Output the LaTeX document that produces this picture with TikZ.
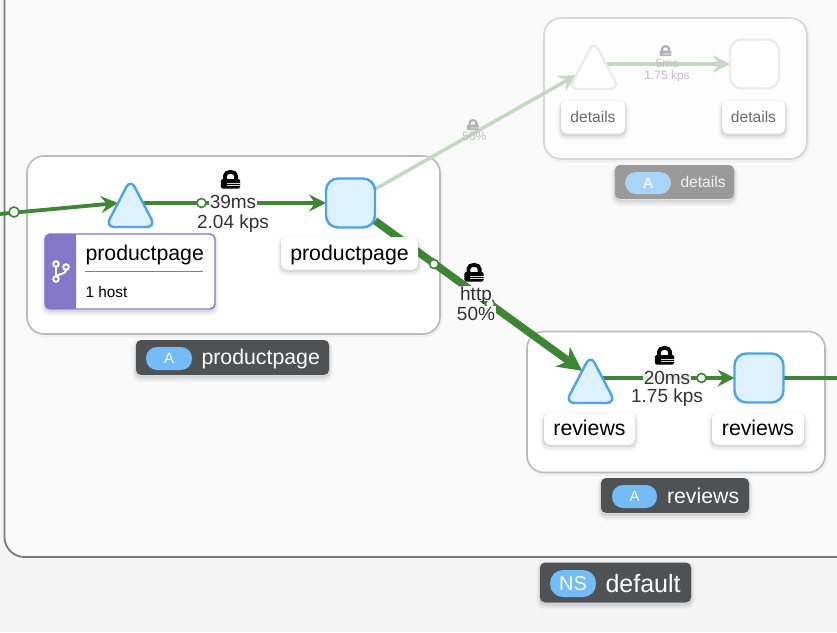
\documentclass[tikz,border=0pt]{standalone}
\usepackage{fontspec}
\setmainfont{Liberation Sans}
\usetikzlibrary{shapes.geometric,arrows.meta,calc}
\definecolor{pagebg}{HTML}{F5F5F5}
\definecolor{nsbg}{HTML}{FAFAFA}
\definecolor{nsline}{HTML}{787878}
\definecolor{grpline}{HTML}{B8BBBE}
\definecolor{grpfade}{HTML}{D6D6D6}
\definecolor{okgreen}{HTML}{3E8635}
\definecolor{fadegreen}{HTML}{C5D9C2}
\definecolor{nodefill}{HTML}{DEF1FE}
\definecolor{nodeline}{HTML}{4BA3E8}
\definecolor{fadeline}{HTML}{EBEBEB}
\definecolor{badgebg}{HTML}{4F5255}
\definecolor{badgefade}{HTML}{999999}
\definecolor{pillblue}{HTML}{73BCF7}
\definecolor{pillfade}{HTML}{A9D5F8}
\definecolor{cardpurple}{HTML}{8476C9}
\definecolor{labeltxt}{HTML}{333333}
\definecolor{fadetxt}{HTML}{BDBDBD}
\definecolor{fadelock}{HTML}{B3B3B3}
\pgfdeclarelayer{groups}
\pgfdeclarelayer{edges}
\pgfsetlayers{groups,edges,main}
\newcommand{\fs}[1]{\fontsize{#1}{#1}\selectfont}
\newcommand{\triface}[2]{\draw[#2,rounded corners=9pt,line join=round] (#1.apex) -- (#1.right corner) -- (#1.left corner) -- cycle;}
\tikzset{
  x=1pt,y=-1pt,
  softshadow/.style={
    preaction={draw=black,fill=none,line width=9pt,draw opacity=.025,transform canvas={yshift=-3pt}},
    preaction={draw=black,fill=none,line width=5pt,draw opacity=.05,transform canvas={yshift=-3pt}},
    preaction={draw=black,fill=none,line width=2pt,draw opacity=.08,transform canvas={yshift=-2pt}}},
  faintshadow/.style={
    preaction={draw=black,fill=none,line width=3.5pt,draw opacity=.04,transform canvas={xshift=1pt,yshift=-1.5pt}}},
  box/.style={rectangle,inner sep=0pt,outer sep=0pt},
  grp/.style={box,draw=grpline,line width=1.6pt,fill=white,rounded corners=17pt,faintshadow},
  grpfaded/.style={grp,draw=grpfade,fill=white!60!nsbg},
  sq/.style={box,draw=nodeline,fill=nodefill,line width=2.4pt,rounded corners=12pt,minimum width=49pt,minimum height=49pt},
  sqfaded/.style={sq,draw=fadeline,fill=white},
  tri/.style={isosceles triangle,isosceles triangle apex angle=55,isosceles triangle stretches,shape border rotate=90,
     anchor=apex,inner sep=0pt,outer sep=0pt,minimum width=50pt,minimum height=48pt},
  triskin/.style={draw=nodeline,fill=nodefill,line width=2.4pt},
  triskinfaded/.style={draw=fadeline,fill=white,line width=2.4pt},
  lbl/.style={box,fill=white,rounded corners=5pt,softshadow,text=black,font=\fs{21.3},text height=14.5pt,text depth=0.5pt},
  lblfaded/.style={box,fill=white,rounded corners=5pt,softshadow,text=black!58,font=\fs{15.6},text height=11pt,text depth=1pt},
  badge/.style={box,fill=badgebg,rounded corners=5pt,softshadow},
  badgefaded/.style={badge,fill=badgefade},
  pill/.style={box,fill=pillblue,rounded corners=11pt,text=white,font=\fs{15}},
  pillfaded/.style={pill,fill=pillfade},
  txt/.style={inner sep=0pt,outer sep=0pt,anchor=base west},
  elabel/.style={inner sep=0.5pt,text=labeltxt,font=\fs{19},text height=14pt,text depth=0pt},
  elabelfaded/.style={inner sep=0pt,text=fadetxt,font=\fs{12},text height=9pt,text depth=0pt},
  edgethin/.style={draw=okgreen,line width=3.4pt,-{Stealth[length=17pt,width=17pt,inset=6pt]}},
  edgein/.style={draw=okgreen,line width=3.8pt,-{Stealth[length=17pt,width=17pt,inset=6pt]}},
  edgethick/.style={draw=okgreen,line width=7.6pt,-{Stealth[length=24pt,width=24pt,inset=7pt]}},
  edgefaded/.style={draw=fadegreen,line width=3.6pt,-{Stealth[length=17pt,width=17pt,inset=6pt]}},
  dot/.style={circle,draw=okgreen,fill=white,line width=1.6pt,inner sep=0pt,minimum size=9pt},
  pics/lockicon/.style n args={3}{code={
    \begin{scope}[scale=#2]
      \draw[#1,line width=3.8pt*#2] (-5.6,1) -- (-5.6,-3.2) arc[start angle=180,end angle=0,x radius=5.6,y radius=-4] -- (5.6,1);
      \fill[#1,rounded corners=1.5pt*#2] (-9.7,0) rectangle (9.7,9.5);
      \fill[white,opacity=#3] (-4,3.5) rectangle (9.7,4.3);
      \fill[white,opacity=#3] (-4,6) rectangle (9.7,6.8);
    \end{scope}
  }},
}
\begin{document}
\begin{tikzpicture}
\useasboundingbox (0,0) rectangle (837,632);
\clip (0,0) rectangle (837,632);
\begin{pgfonlayer}{groups}
\fill[pagebg] (0,0) rectangle (837,632);
\node[box,draw=nsline,fill=nsbg,line width=1.8pt,rounded corners=20pt,minimum width=900pt,minimum height=600pt,anchor=south west] (ns) at (4.5,557) {};
\node[grp,minimum width=413pt,minimum height=178pt] (gpp) at (233.5,245) {};
\node[grpfaded,minimum width=263pt,minimum height=141pt] (gdet) at (675.5,88.5) {};
\node[grp,minimum width=298pt,minimum height=141pt] (grev) at (676,402) {};
\end{pgfonlayer}

% service and workload shapes
\node[tri] (t1) at (130.5,179) {};
\triface{t1}{triskin}
\node[sq] (s1) at (350.5,203) {};
\node[tri] (t2) at (590.5,355) {};
\triface{t2}{triskin}
\node[sq] (s2) at (759,378) {};
\node[tri] (t3) at (594,41) {};
\triface{t3}{triskinfaded}
\node[sqfaded] (s3) at (754.5,64) {};

% connectors
\coordinate (inStart) at (-6,214.5);
\coordinate (outEnd) at (845,378);
\coordinate (t2in) at ($(t2.apex)!.33!(t2.left corner)$);
\coordinate (t3in) at ($(t3.apex)!.71!(t3.left corner)$);
\begin{pgfonlayer}{edges}
\draw[edgein] (inStart) -- (t1.left side);
\draw[edgethin] (t1.right side |- s1.west) -- (s1.west);
\draw[edgefaded] (s1) -- (t3in);
\draw[edgefaded] (t3.right side |- s3.west) -- (s3.west);
\draw[edgethick] (s1) -- (t2in);
\draw[edgethin] (t2.right side |- s2.west) -- (s2.west);
\draw[draw=okgreen,line width=3.4pt] (s2) -- (outEnd);
\node[dot,minimum size=10pt] (d0) at (14,212) {};
\node[dot] (d1) at (201.5,203) {};
\node[dot] (d2) at (434,264) {};
\node[dot] (d3) at (490,304) {};
\node[dot] (d4) at (701.5,378) {};
\end{pgfonlayer}

% edge labels
\pic at (230.5,179) {lockicon={black}{1}{.85}};
\node[elabel,fill=white] (e1a) at (233,201.5) {39ms};
\node[elabel] (e1b) at (233,221) {2.04 kps};
\pic at (474,272) {lockicon={black}{1}{.85}};
\node[elabel,fill=nsbg] (e2a) at (476,293) {http};
\node[elabel,fill=nsbg] (e2b) at (476,313) {50\%};
\pic at (664.5,355) {lockicon={black}{1}{.85}};
\node[elabel,fill=white,fill opacity=.85,text opacity=1] (e3a) at (667,377) {20ms};
\node[elabel] (e3b) at (667,395.7) {1.75 kps};
\pic at (665.5,50.5) {lockicon={fadelock}{.6}{.35}};
\node[elabelfaded] (e4a) at (667,62.5) {5ms};
\node[elabelfaded] (e4b) at (667,75) {1.75 kps};
\pic at (473,124.5) {lockicon={fadelock}{.6}{.35}};
\node[elabelfaded] (e5a) at (474.5,136) {50\%};

% node labels
\node[lbl,minimum width=137pt,minimum height=32pt] (l1) at (349.5,253) {productpage};
\node[lbl,minimum width=91pt,minimum height=31pt] (l2) at (589.5,428.5) {reviews};
\node[lbl,minimum width=92pt,minimum height=31pt] (l3) at (758,428.5) {reviews};
\node[lblfaded,minimum width=64pt,minimum height=32pt] (l4) at (593,117) {details};
\node[lblfaded,minimum width=63pt,minimum height=32pt] (l5) at (753.5,117) {details};

% workload card
\node[box,fill=white,draw=cardpurple,line width=1.4pt,rounded corners=5pt,softshadow,minimum width=170pt,minimum height=75pt,anchor=north west] (card) at (45,234) {};
\fill[cardpurple,rounded corners=5pt] (45,234) -- (76,234) -- (76,309) -- (45,309) -- cycle;
\fill[cardpurple] (70,234) rectangle (76,309);
\node[txt,font=\fs{21.3}] (ct) at (85.5,260) {productpage};
\draw[draw=black!50,line width=1.5pt] (85,271.5) -- (203,271.5);
\node[txt,font=\fs{15.4}] (ch) at (85.5,297) {1 host};
\begin{scope}
\draw[white,line width=2pt] (56,267) -- (56,276);
\draw[white,line width=2pt] (66,270) .. controls (66,275) and (58,273) .. (56,277);
\node[circle,draw=white,fill=cardpurple,line width=2pt,inner sep=0pt,minimum size=5.5pt] (i1) at (56,264) {};
\node[circle,draw=white,fill=cardpurple,line width=2pt,inner sep=0pt,minimum size=5.5pt] (i2) at (66,267) {};
\node[circle,draw=white,fill=cardpurple,line width=2pt,inner sep=0pt,minimum size=5.5pt] (i3) at (56,279) {};
\end{scope}

% group badges
\node[badge,minimum width=193pt,minimum height=35pt] (b1) at (232.5,357.5) {};
\node[pill,minimum width=46pt,minimum height=23pt] (p1) at (169,358.5) {A};
\node[txt,text=white,font=\fs{21.3}] (bt1) at (201.5,364.5) {productpage};
\node[badge,minimum width=148pt,minimum height=35pt] (b2) at (675,495.5) {};
\node[pill,minimum width=45pt,minimum height=23pt] (p2) at (634.5,496.5) {A};
\node[txt,text=white,font=\fs{21.3}] (bt2) at (667,503) {reviews};
\node[badgefaded,minimum width=119pt,minimum height=34pt] (b3) at (674.5,182) {};
\node[pillfaded,minimum width=46pt,minimum height=22pt] (p3) at (648,183) {A};
\node[txt,text=white!95!black,font=\fs{15.6}] (bt3) at (680.5,187) {details};
\node[badge,minimum width=151pt,minimum height=40pt] (b4) at (615.5,582.5) {};
\node[pill,rounded corners=13pt,font=\fs{20},minimum width=46pt,minimum height=27pt] (p4) at (573,583.5) {NS};
\node[txt,text=white,font=\fs{25}] (bt4) at (605.5,592) {default};
\end{tikzpicture}
\end{document}
